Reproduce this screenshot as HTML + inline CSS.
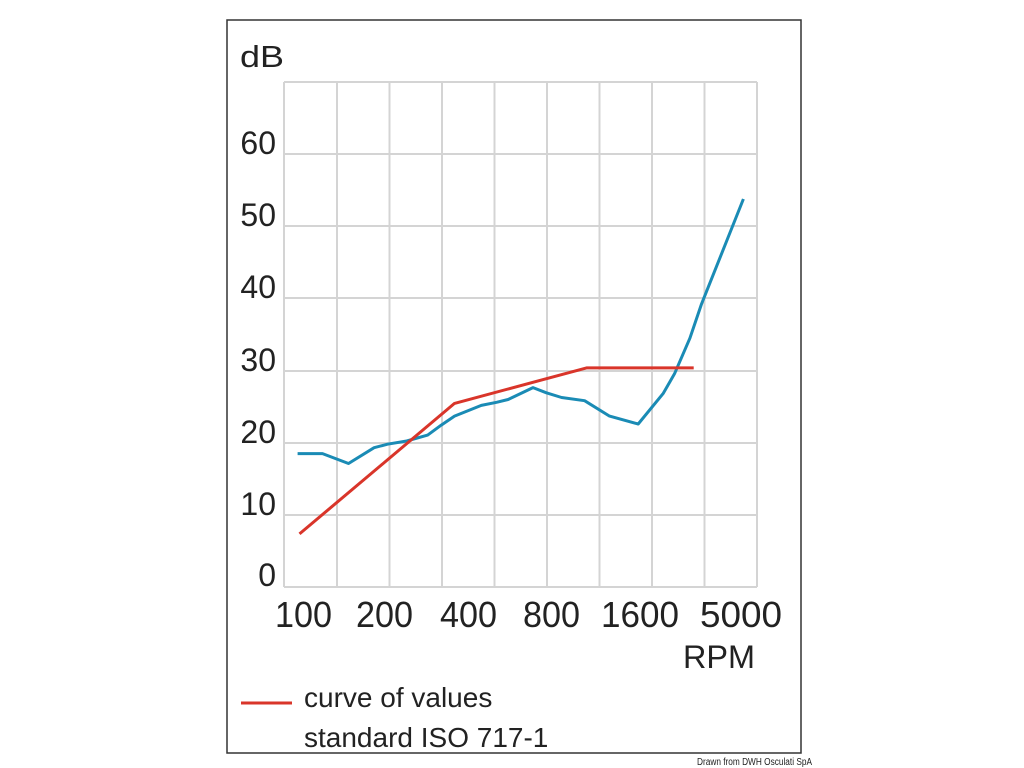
<!DOCTYPE html>
<html><head><meta charset="utf-8"><style>
html,body{margin:0;padding:0;background:#fff;}
svg{display:block;}
text{font-family:"Liberation Sans",sans-serif;fill:#222;}
</style></head><body>
<svg width="1024" height="768" viewBox="0 0 1024 768" xmlns="http://www.w3.org/2000/svg">
<rect x="227" y="20" width="574" height="733" fill="#fff" stroke="#333" stroke-width="1.5"/>
<g stroke="#d4d4d4" stroke-width="2" fill="none">
<line x1="284" y1="82" x2="284" y2="587"/>
<line x1="337" y1="82" x2="337" y2="587"/>
<line x1="389.5" y1="82" x2="389.5" y2="587"/>
<line x1="442" y1="82" x2="442" y2="587"/>
<line x1="494.5" y1="82" x2="494.5" y2="587"/>
<line x1="547" y1="82" x2="547" y2="587"/>
<line x1="599.5" y1="82" x2="599.5" y2="587"/>
<line x1="652" y1="82" x2="652" y2="587"/>
<line x1="704.5" y1="82" x2="704.5" y2="587"/>
<line x1="757" y1="82" x2="757" y2="587"/>
<line x1="284" y1="82" x2="757" y2="82"/>
<line x1="284" y1="154" x2="757" y2="154"/>
<line x1="284" y1="226" x2="757" y2="226"/>
<line x1="284" y1="298" x2="757" y2="298"/>
<line x1="284" y1="371" x2="757" y2="371"/>
<line x1="284" y1="443" x2="757" y2="443"/>
<line x1="284" y1="515" x2="757" y2="515"/>
<line x1="284" y1="587" x2="757" y2="587"/>
</g>
<polyline fill="none" stroke="#1a8bb5" stroke-width="3" stroke-linejoin="round" points="297.6,453.6 322.5,453.6 348.5,463.5 374.1,447.7 387.5,444.2 406.7,441 427.7,435.1 441.1,425.2 454.5,416.1 481.3,405.4 496.6,402.3 508.1,399.5 533,387.6 546.4,392.8 561.6,397.5 584.6,400.7 609.5,416.1 638.2,424 663.1,393.6 674.5,373.8 689.9,338.2 701.3,304.6 743.4,199"/>
<polyline fill="none" stroke="#d9352a" stroke-width="3" stroke-linejoin="round" points="299.5,533.9 454.5,403.4 586.5,367.9 693.7,367.9"/>
<text x="240" y="67" font-size="31" textLength="44" lengthAdjust="spacingAndGlyphs">dB</text>
<g font-size="32" text-anchor="end" fill="#333">
<text x="276" y="154">60</text>
<text x="276" y="226">50</text>
<text x="276" y="298">40</text>
<text x="276" y="371">30</text>
<text x="276" y="443">20</text>
<text x="276" y="515">10</text>
<text x="276" y="586">0</text>
</g>
<g font-size="36">
<text x="275" y="627" textLength="57" lengthAdjust="spacingAndGlyphs">100</text>
<text x="356" y="627" textLength="57" lengthAdjust="spacingAndGlyphs">200</text>
<text x="440" y="627" textLength="57" lengthAdjust="spacingAndGlyphs">400</text>
<text x="523" y="627" textLength="57" lengthAdjust="spacingAndGlyphs">800</text>
<text x="601" y="627" textLength="78" lengthAdjust="spacingAndGlyphs">1600</text>
<text x="700" y="627" textLength="82" lengthAdjust="spacingAndGlyphs">5000</text>
<text x="683" y="668" font-size="32" textLength="72" lengthAdjust="spacingAndGlyphs">RPM</text>
</g>
<line x1="241" y1="703" x2="292" y2="703" stroke="#d9352a" stroke-width="3"/>
<text x="304" y="707" font-size="28">curve of values</text>
<text x="304" y="747" font-size="28">standard ISO 717-1</text>
<text x="697" y="765" font-size="10" textLength="115" lengthAdjust="spacingAndGlyphs">Drawn from DWH Osculati SpA</text>
</svg>
</body></html>
